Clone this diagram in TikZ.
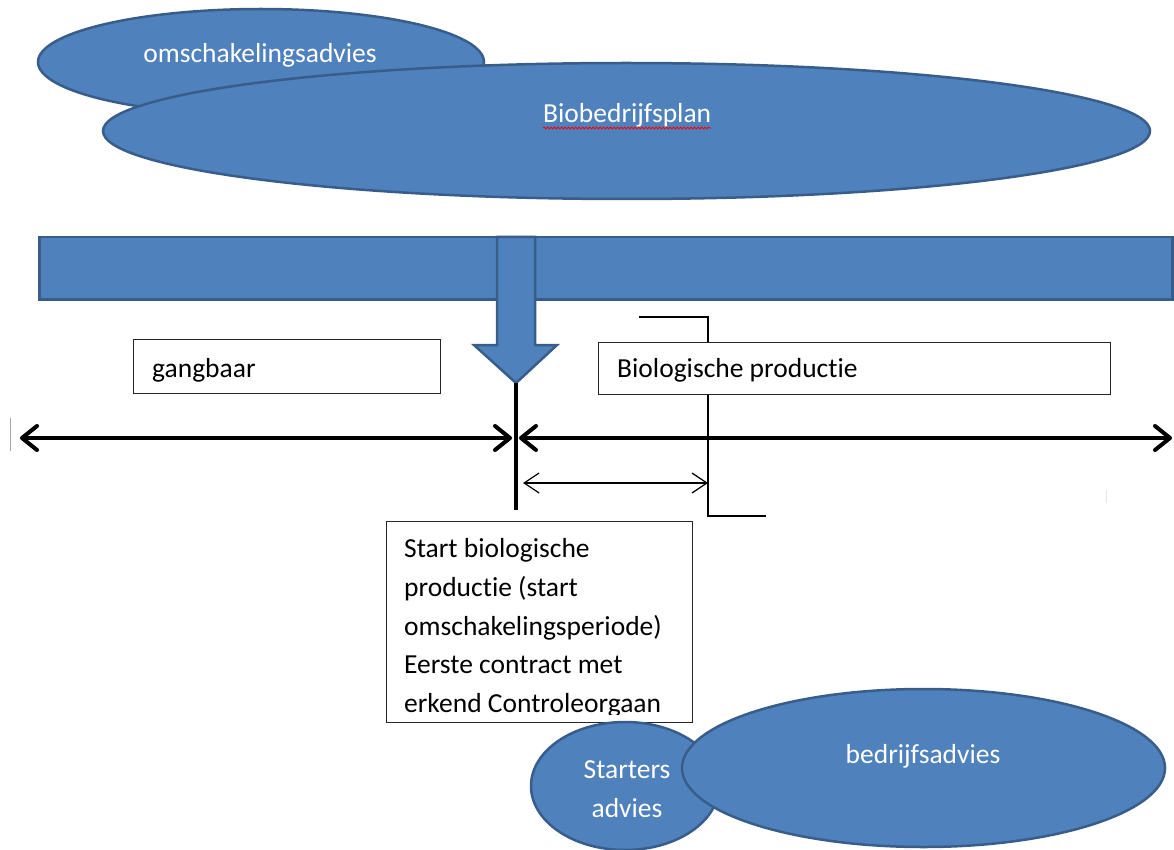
\documentclass[tikz,border=0pt]{standalone}
\usepackage{fontspec}
\setmainfont{Carlito}[Ligatures=NoCommon]
\usetikzlibrary{arrows.meta,shapes.geometric,decorations.pathmorphing}
\definecolor{ofill}{RGB}{79,129,189}
\definecolor{oline}{RGB}{56,93,138}
\begin{document}
\begin{tikzpicture}[x=1pt,y=-1pt,
  every node/.style={font=\fontsize{27.5}{33}\selectfont},
  blob/.style={ellipse, fill=ofill, draw=oline, line width=2.5pt, inner sep=0pt},
  wtext/.style={text=white, inner sep=0pt, anchor=base},
  btext/.style={text=black, inner sep=0pt, anchor=base west},
  lbox/.style={rectangle, draw=black!85, line width=1.1pt, fill=white, inner sep=0pt, anchor=north west},
  bigarrow/.style={line width=4pt, {Straight Barb[length=15pt,width=24pt,round]}-{Straight Barb[length=15pt,width=24pt,round]}},
  smallarrow/.style={line width=1.2pt, {Straight Barb[length=15pt,width=20pt]}-{Straight Barb[length=15pt,width=20pt]}},
  thinline/.style={line width=1.3pt, black}
]
\useasboundingbox (0,0) rectangle (1174,850);

% top ellipses
\node[blob, minimum width=446pt, minimum height=106pt] (e1) at (261,62) {};
\node[wtext] (t1) at (260,63) {omschakelingsadvies};
\node[blob, minimum width=1047pt, minimum height=136pt] (e2) at (626.5,131) {};
\node[wtext, anchor=base west] (t2) at (543,123) {Biobedrijfsplan};
\draw[red, line width=0.8pt, decorate, decoration={snake, amplitude=1pt, segment length=3.5pt}]
  ([yshift=-5pt]t2.base west) -- ([yshift=-5pt]t2.base east);

% bar and down arrow
\node[rectangle, fill=ofill, draw=oline, line width=2.5pt, inner sep=0pt,
      minimum width=1133pt, minimum height=62pt, anchor=north west] (bar) at (38,236) {};
\coordinate (tip) at (516,383);
\draw[fill=ofill, draw=oline, line width=2.5pt, line join=miter]
  (497,237) -- (497,345) -- (474,345) -- (tip) -- (557,345) -- (535,345) -- (535,237) -- cycle;

% vertical marker line
\coordinate (vb) at (516,510);
\draw[line width=4pt] (tip) -- (vb);

% timeline arrows
\coordinate (L1) at (20,438);
\coordinate (R1) at (512,438);
\coordinate (L2) at (519,438);
\coordinate (R2) at (1172,438);
\draw[bigarrow] (L1) -- (R1);
\draw[bigarrow] (L2) -- (R2);

% left tick
\coordinate (k1) at (10,418);
\coordinate (k2) at (10,451);
\draw[gray!70, line width=0.8pt] (k1) -- (k2);

% bracket
\coordinate (b1) at (639,317);
\coordinate (b2) at (708,317);
\coordinate (b3) at (708,516);
\coordinate (b4) at (766,516);
\draw[thinline] (b1) -- (b2) -- (b3) -- (b4);

% small arrow
\coordinate (s1) at (523,483);
\coordinate (s2) at (708,483);
\draw[smallarrow] (s1) -- (s2);

% faint cursor mark
\coordinate (c1) at (1106,490);
\coordinate (c2) at (1106,503);
\draw[gray!20, line width=0.7pt] (c1) -- (c2);

% label boxes
\node[lbox, minimum width=307pt, minimum height=54pt] (gbox) at (133,339) {};
\node[btext] (gtxt) at (152,377) {gangbaar};
\node[lbox, minimum width=512pt, minimum height=52pt] (bbox) at (598,342) {};
\node[btext] (btxt) at (617,377) {Biologische productie};

% start box
\node[lbox, minimum width=306pt, minimum height=201pt] (sbox) at (386,521) {};
\begin{scope}
\clip (386,521) rectangle (692,714);
\node[btext] (s1t) at (404,557) {Start biologische};
\node[btext] (s2t) at (404,596) {productie (start};
\node[btext] (s3t) at (404,635) {omschakelingsperiode)};
\node[btext] (s4t) at (404,673) {Eerste contract met};
\node[btext] (s5t) at (404,712) {erkend Controleorgaan};
\end{scope}

% bottom ellipses
\node[blob, minimum width=188pt, minimum height=128pt] (e3) at (625,786) {};
\node[wtext] (t3a) at (627,778) {Starters};
\node[wtext] (t3b) at (627,817) {advies};
\node[blob, minimum width=483pt, minimum height=158pt] (e4) at (923.5,768) {};
\node[wtext] (t4) at (923,763) {bedrijfsadvies};
\end{tikzpicture}
\end{document}
